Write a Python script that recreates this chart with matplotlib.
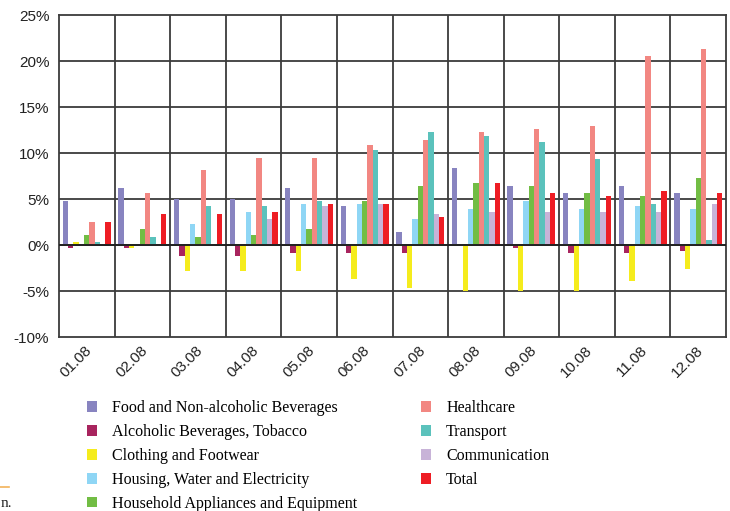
import matplotlib
matplotlib.use('Agg')
import matplotlib.pyplot as plt
import matplotlib.transforms as mtransforms
from matplotlib.patches import Patch
from matplotlib.lines import Line2D
import numpy as np

months = ['01.08', '02.08', '03.08', '04.08', '05.08', '06.08',
          '07.08', '08.08', '09.08', '10.08', '11.08', '12.08']

food = [4.8, 6.2, 5.0, 5.0, 6.2, 4.25, 1.45, 8.4, 6.45, 5.6, 6.45, 5.6]
alcohol = [-0.3, -0.3, -1.15, -1.15, -0.85, -0.85, -0.85, 0.0, -0.3, -0.85, -0.85, -0.6]
clothing = [0.3, -0.3, -2.8, -2.8, -2.8, -3.65, -4.7, -5.05, -5.05, -5.05, -3.9, -2.6]
housing = [0.0, 0.0, 2.3, 3.6, 4.5, 4.5, 2.85, 3.95, 4.8, 3.95, 4.25, 3.95]
household = [1.1, 1.75, 0.9, 1.1, 1.75, 4.8, 6.45, 6.75, 6.45, 5.6, 5.35, 7.3]
healthcare = [2.5, 5.6, 8.2, 9.5, 9.5, 10.9, 11.45, 12.3, 12.65, 12.9, 20.5, 21.3]
transport = [0.35, 0.9, 4.25, 4.25, 4.8, 10.35, 12.3, 11.8, 11.25, 9.3, 4.5, 0.55]
communication = [0.0, 0.0, 0.0, 2.85, 4.25, 4.5, 3.4, 3.6, 3.6, 3.6, 3.6, 4.5]
total = [2.5, 3.4, 3.4, 3.6, 4.5, 4.5, 3.05, 6.75, 5.6, 5.35, 5.9, 5.6]

series = [
    ('Food and Non-alcoholic Beverages', food, '#8884c0'),
    ('Alcoholic Beverages, Tobacco', alcohol, '#a8245e'),
    ('Clothing and Footwear', clothing, '#f5ec1d'),
    ('Housing, Water and Electricity', housing, '#8fd6f5'),
    ('Household Appliances and Equipment', household, '#72bd44'),
    ('Healthcare', healthcare, '#f28782'),
    ('Transport', transport, '#5bc2bc'),
    ('Communication', communication, '#c8b3d8'),
    ('Total', total, '#ee1d24'),
]

W, H = 730, 511
fig = plt.figure(figsize=(W / 100, H / 100), dpi=100)
ax = fig.add_axes([59 / W, 1 - 337 / H, (726 - 59) / W, (337 - 15) / H])

x = np.arange(len(months))
bw = 0.096
n = len(series)
for i, (name, vals, col) in enumerate(series):
    ax.bar(x + (i - (n - 1) / 2) * bw, vals, bw, color=col, zorder=3,
           linewidth=0)

ax.set_xlim(-0.5, len(months) - 0.5)
ax.set_ylim(-10, 25)
ax.set_yticks(np.arange(-10, 26, 5))
ax.set_yticklabels(['%d%%' % v for v in range(-10, 26, 5)],
                   fontsize=11, family='Liberation Sans', color='#222222')

# gridlines on category boundaries and every 5%
grid_col = '#3c3c3c'
for b in np.arange(0.5, len(months) - 0.5, 1):
    ax.axvline(b, color=grid_col, lw=1.3, zorder=1)
for v in range(-5, 25, 5):
    ax.axhline(v, color=grid_col, lw=1.3, zorder=1)
ax.axhline(0, color='#222222', lw=1.4, zorder=4)
for s in ax.spines.values():
    s.set_color(grid_col)
    s.set_linewidth(1.3)

ax.set_xticks(x)
ax.set_xticklabels(months, rotation=45, ha='right', va='center',
                   rotation_mode='anchor', fontsize=11,
                   family='Liberation Sans', color='#222222')
ax.tick_params(length=0)
ax.tick_params(axis='y', pad=7)
ax.tick_params(axis='x', pad=8)
off = mtransforms.ScaledTranslation(3 / 100, 0, fig.dpi_scale_trans)
for lab in ax.get_xticklabels():
    lab.set_transform(lab.get_transform() + off)

handles = [Patch(facecolor=c, edgecolor='none') for _, _, c in series]
labels = [nm for nm, _, _ in series]
fig.legend(handles, labels, ncol=2, loc='upper left',
           bbox_to_anchor=(87 / W, 1 - 400 / H), frameon=False,
           prop={'family': 'Liberation Serif', 'size': 11.5},
           handlelength=0.62, handleheight=0.62, handletextpad=0.95,
           labelspacing=0.5, columnspacing=4.0, borderpad=0,
           borderaxespad=0)

# fragment of the neighbouring page column
fig.add_artist(Line2D([0, 9 / W], [1 - 487 / H, 1 - 487 / H],
                      color='#f2b35a', lw=1.2))
fig.text(0.5 / W, 1 - 503 / H, 'n.', family='Liberation Serif', fontsize=11,
         va='center', ha='left', color='#222222')

fig.savefig('out.png', dpi=100)
